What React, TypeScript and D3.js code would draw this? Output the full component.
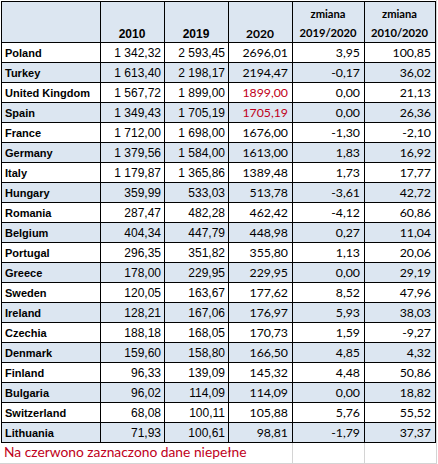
import React from "react";
import * as d3 from "d3";

const countries = ["Poland","Turkey","United Kingdom","Spain","France","Germany","Italy","Hungary","Romania","Belgium","Portugal","Greece","Sweden","Ireland","Czechia","Denmark","Finland","Bulgaria","Switzerland","Lithuania"];
const v2010 = [1342.32,1613.40,1567.72,1349.43,1712.00,1379.56,1179.87,359.99,287.47,404.34,296.35,178.00,120.05,128.21,188.18,159.60,96.33,96.02,68.08,71.93];
const v2019 = [2593.45,2198.17,1899.00,1705.19,1698.00,1584.00,1365.86,533.03,482.28,447.79,351.82,229.95,163.67,167.06,168.05,158.80,139.09,114.09,100.11,100.61];
const v2020 = [2696.01,2194.47,1899.00,1705.19,1676.00,1613.00,1389.48,513.78,462.42,448.98,355.80,229.95,177.62,176.97,170.73,166.50,145.32,114.09,105.88,98.81];
const chg1920 = [3.95,-0.17,0.00,0.00,-1.30,1.83,1.73,-3.61,-4.12,0.27,1.13,0.00,8.52,5.93,1.59,4.85,4.48,0.00,5.76,-1.79];
const chg1020 = [100.85,36.02,21.13,26.36,-2.10,16.92,17.77,42.72,60.86,11.04,20.06,29.19,47.96,38.03,-9.27,4.32,50.86,18.82,55.52,37.37];
const incomplete2020 = ["United Kingdom","Spain"];
const headers = ["", "2010", "2019", "2020", "zmiana|2019/2020", "zmiana|2010/2020"];
const note = "Na czerwono zaznaczono dane niepełne";

const locG = d3.formatLocale({ decimal: ",", thousands: "\u00a0", grouping: [3], currency: ["", ""], minus: "-" });
const locN = d3.formatLocale({ decimal: ",", thousands: "", grouping: [3], currency: ["", ""], minus: "-" });
const fmtG = locG.format(",.2f");
const fmtN = locN.format(".2f");

const W = 438, H = 464;
const colX = [1, 100, 164, 228, 292, 364, 435];
const headTop = 1, headBot = 42, tableBot = 442;
const BLUE = "#dce6f1";
const RED = "#c00020";
const GRID = "#d4d4d4";

export default function App() {
  const y = d3.scaleBand<string>().domain(countries).range([headBot, tableBot]);
  const bh = y.bandwidth();
  const cols = [
    { vals: v2010, fmt: fmtG, font: "'Liberation Sans', Arial, sans-serif", size: 12 },
    { vals: v2019, fmt: fmtG, font: "'Liberation Sans', Arial, sans-serif", size: 12 },
    { vals: v2020, fmt: fmtN, font: "Lato, sans-serif", size: 12.3 },
    { vals: chg1920, fmt: fmtN, font: "Lato, sans-serif", size: 12.3 },
    { vals: chg1020, fmt: fmtN, font: "Lato, sans-serif", size: 12.3 },
  ];
  return (
    <div style={{ position: "absolute", left: 0, top: 0 }}>
      <svg width={W} height={H} style={{ display: "block", background: "#fff" }}>
        <line x1={436.5} x2={436.5} y1={0} y2={H} stroke={GRID} />
        <line x1={0} x2={437} y1={463.5} y2={463.5} stroke={GRID} />
        <line x1={colX[4] + 0.5} x2={colX[4] + 0.5} y1={tableBot} y2={H} stroke={GRID} />
        <line x1={colX[5] + 0.5} x2={colX[5] + 0.5} y1={tableBot} y2={H} stroke={GRID} />
        <rect x={colX[0]} y={headTop} width={colX[6] - colX[0]} height={headBot - headTop} fill={BLUE} />
        {countries.map((c, i) => (
          <rect key={c} x={colX[0]} y={y(c)} width={colX[6] - colX[0]} height={bh} fill={i % 2 === 1 ? BLUE : "#fff"} />
        ))}
        {headers.map((h, j) => {
          if (!h) return null;
          const cx = (colX[j] + colX[j + 1]) / 2;
          if (h.includes("|")) {
            const [a, b] = h.split("|");
            return (
              <g key={j} fontFamily="Lato, sans-serif" fontWeight="bold" fontSize={11.2} textAnchor="middle">
                <text x={cx} y={18}>{a}</text>
                <text x={cx} y={37}>{b}</text>
              </g>
            );
          }
          const isLato = j === 3;
          return (
            <text key={j} x={cx} y={38} textAnchor="middle" fontWeight="bold"
              fontFamily={isLato ? "Lato, sans-serif" : "'Liberation Sans', Arial, sans-serif"}
              fontSize={12}>{h}</text>
          );
        })}
        {countries.map((c, i) => {
          const yb = (y(c) as number) + 15;
          return (
            <g key={c}>
              <text x={5} y={yb} fontFamily="'Liberation Sans', Arial, sans-serif" fontWeight="bold" fontSize={11}>{c}</text>
              {cols.map((col, k) => {
                const right = colX[k + 2] - (k < 2 ? 3 : 4);
                const red = k === 2 && incomplete2020.includes(c);
                return (
                  <text key={k} x={right} y={yb} textAnchor="end" fontFamily={col.font} fontSize={col.size}
                    fill={red ? RED : "#000"}>{col.fmt(col.vals[i])}</text>
                );
              })}
            </g>
          );
        })}
        {[headTop, ...countries.map((c) => y(c) as number), tableBot].map((yy, i) => (
          <line key={"h" + i} x1={colX[0]} x2={colX[6] + 1} y1={yy + 0.5} y2={yy + 0.5} stroke="#000" />
        ))}
        {colX.map((xx, i) => (
          <line key={"v" + i} x1={xx + 0.5} x2={xx + 0.5} y1={headTop} y2={tableBot + 1} stroke="#000" />
        ))}
        <text x={4} y={457} fontFamily="Lato, sans-serif" fontSize={13.8} fill={RED}>{note}</text>
      </svg>
    </div>
  );
}
